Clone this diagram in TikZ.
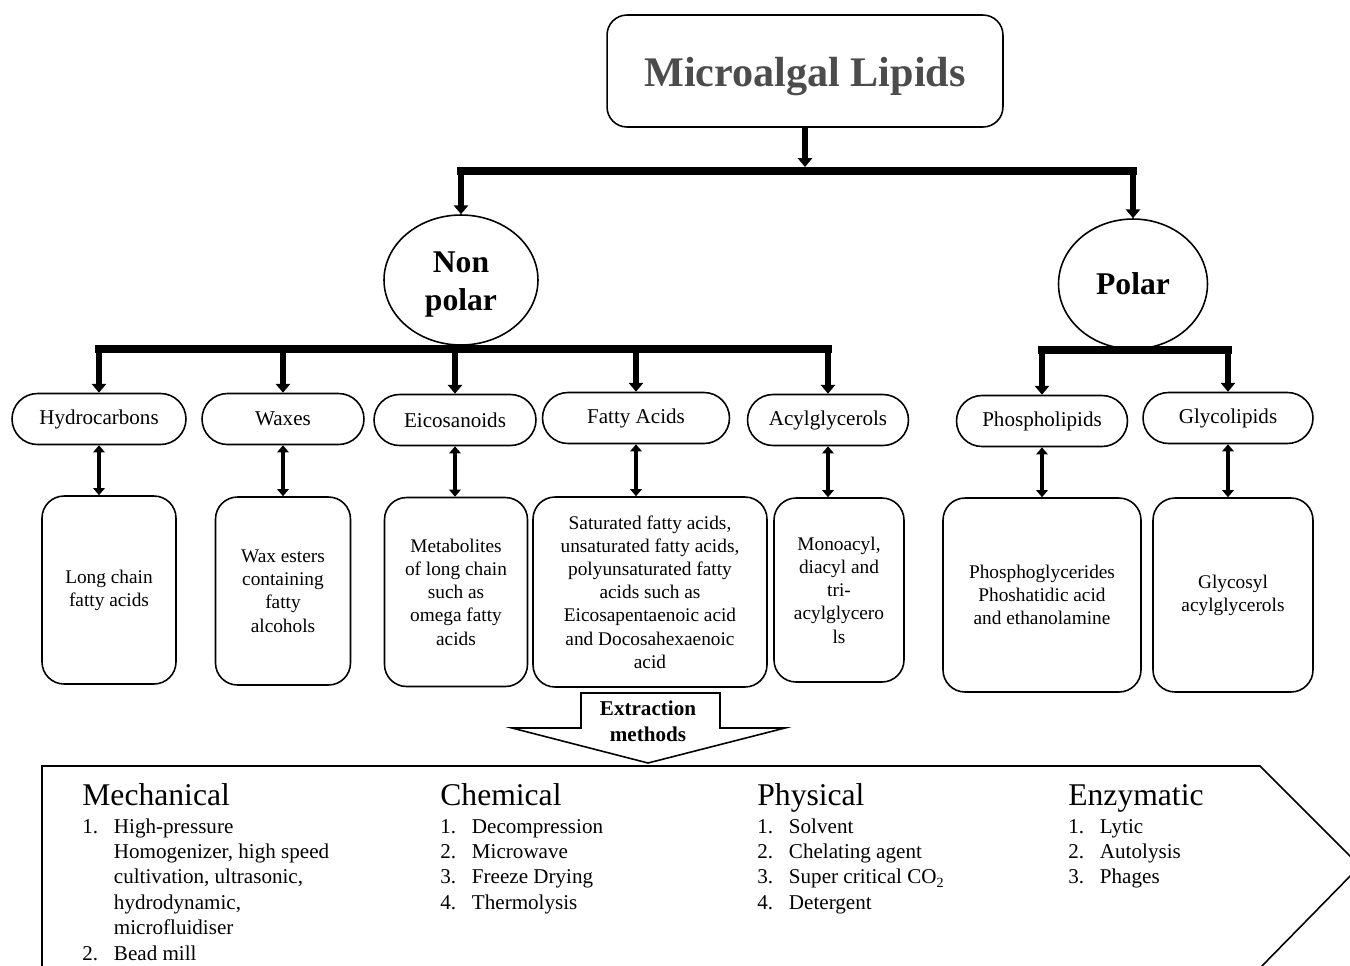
\documentclass[tikz,border=0pt]{standalone}
\usepackage{fontspec}
\setmainfont{Liberation Serif}
\usetikzlibrary{shapes,arrows.meta}
\tikzset{
    lipid/.style = {draw, rounded corners=0.4cm, line width=0.9pt, minimum width=7.92cm, minimum height=2.24cm,
        font=\fontsize{24}{28}\selectfont\bfseries, text=black!70, text height=23pt},
    group/.style = {draw, ellipse, line width=0.9pt, inner sep=0pt, minimum height=2.6cm, align=center,
        font=\fontsize{18}{21.5}\selectfont\bfseries},
    class/.style = {draw, rounded rectangle, line width=0.9pt, inner sep=0pt, minimum height=1.02cm,
        font=\fontsize{12}{14}\selectfont},
    info/.style = {draw, rounded corners=0.44cm, line width=0.9pt, inner sep=0pt, align=center,
        font=\fontsize{11}{13.2}\selectfont},
    feed/.style = {line width=3.2pt, -{Triangle[width=8pt,length=5pt]}},
    bar/.style = {line width=4.6pt, line cap=rect},
    link/.style = {line width=2.5pt, {Triangle[width=6.5pt,length=4pt]}-{Triangle[width=6.5pt,length=4pt]}},
    method/.style = {anchor=base west, inner sep=0pt, font=\fontsize{18}{21}\selectfont},
    steps/.style = {anchor=base west, inner sep=0pt, font=\fontsize{12}{14.5}\selectfont},
}

\begin{document}
\begin{tikzpicture}[x=0.02cm, y=-0.02cm]
    \useasboundingbox (0,0) rectangle (1350,965);

    \node[lipid] (lipids) at (805,71) {Microalgal Lipids};
    \node[group, minimum width=3.08cm, text height=38pt] (nonpolar) at (461,280) {Non\\polar};
    \node[group, minimum width=2.98cm] (polar) at (1133,284) {Polar};

    \coordinate (top) at (805,171);
    \coordinate (npbar) at (0,349);
    \coordinate (pbar) at (0,350);

    \draw[feed] (lipids.south) -- ([yshift=0.08cm]top);
    \draw[bar] (nonpolar.north |- top) -- (polar.north |- top);
    \draw[feed] (nonpolar.north |- top) -- (nonpolar.north);
    \draw[feed] (polar.north |- top) -- (polar.north);

    % classes
    \node[class, minimum width=3.48cm] (hydro) at (99,419) {Hydrocarbons};
    \node[class, minimum width=3.24cm] (waxes) at (283,419) {Waxes};
    \node[class, minimum width=3.24cm] (eico) at (455,420) {Eicosanoids};
    \node[class, minimum width=3.74cm] (fatty) at (636,418) {Fatty Acids};
    \node[class, minimum width=3.22cm] (acyl) at (828,420) {Acylglycerols};
    \node[class, minimum width=3.42cm] (phospho) at (1042,421) {Phospholipids};
    \node[class, minimum width=3.40cm] (glyco) at (1228,418) {Glycolipids};

    \draw[bar] (hydro.north |- npbar) -- (acyl.north |- npbar);
    \foreach \n in {hydro,waxes,eico,fatty,acyl}
        \draw[feed] (\n.north |- npbar) -- (\n.north);
    \draw[bar] (phospho.north |- pbar) -- (glyco.north |- pbar);
    \foreach \n in {phospho,glyco}
        \draw[feed] (\n.north |- pbar) -- (\n.north);

    % contents
    \node[info, minimum width=2.68cm, minimum height=3.76cm] (chain) at (109,590) {Long chain\\fatty acids};
    \node[info, minimum width=2.70cm, minimum height=3.76cm] (esters) at (283,591) {Wax esters\\containing\\fatty\\alcohols};
    \node[info, minimum width=2.86cm, minimum height=3.78cm] (metab) at (456,592) {Metabolites\\of long chain\\such as\\omega fatty\\acids};
    \node[info, minimum width=4.68cm, minimum height=3.80cm] (satur) at (650,592) {Saturated fatty acids,\\unsaturated fatty acids,\\polyunsaturated fatty\\acids such as\\Eicosapentaenoic acid\\and Docosahexaenoic\\acid};
    \node[info, minimum width=2.60cm, minimum height=3.68cm] (mono) at (839,590) {Monoacyl,\\diacyl and\\tri-\\acylglycero\\ls};
    \node[info, minimum width=3.96cm, minimum height=3.88cm] (phosg) at (1042,595) {Phosphoglycerides\\Phoshatidic acid\\and ethanolamine};
    \node[info, minimum width=3.20cm, minimum height=3.88cm] (glycos) at (1233,595) {Glycosyl\\acylglycerols};

    \draw[link] (hydro.south) -- (hydro.south |- chain.north);
    \draw[link] (waxes.south) -- (waxes.south |- esters.north);
    \draw[link] (eico.south) -- (eico.south |- metab.north);
    \draw[link] (fatty.south) -- (fatty.south |- satur.north);
    \draw[link] (acyl.south) -- (acyl.south |- mono.north);
    \draw[link] (phospho.south) -- (phospho.south |- phosg.north);
    \draw[link] (glyco.south) -- (glyco.south |- glycos.north);

    % extraction
    \draw[line width=0.9pt] (581,728) -- (581,693) -- (720,693) -- (720,728) -- (785,728)
        -- (648,763) -- (512,728) -- cycle;
    \node[font=\fontsize{12}{14.7}\selectfont\bfseries, align=center] (extract) at (648,721) {Extraction\\methods};

    \draw[line width=0.9pt] (42,975) -- (42,766) -- (1260,766) -- (1360,866) -- (1260,968) -- (42,968);

    \node[method] (mech) at (82,805) {Mechanical};
    \node[steps] (mechlist) at (82,833) {\begin{tabular}[t]{@{}p{18pt}@{}l@{}}
        1. & High-pressure\\
           & Homogenizer, high speed\\
           & cultivation, ultrasonic,\\
           & hydrodynamic,\\
           & microfluidiser\\
        2. & Bead mill
    \end{tabular}};

    \node[method] (chem) at (440,805) {Chemical};
    \node[steps] (chemlist) at (440,833) {\begin{tabular}[t]{@{}p{18pt}@{}l@{}}
        1. & Decompression\\
        2. & Microwave\\
        3. & Freeze Drying\\
        4. & Thermolysis
    \end{tabular}};

    \node[method] (phys) at (757,805) {Physical};
    \node[steps] (physlist) at (757,833) {\begin{tabular}[t]{@{}p{18pt}@{}l@{}}
        1. & Solvent\\
        2. & Chelating agent\\
        3. & Super critical CO\textsubscript{2}\\
        4. & Detergent
    \end{tabular}};

    \node[method] (enzy) at (1068,805) {Enzymatic};
    \node[steps] (enzylist) at (1068,833) {\begin{tabular}[t]{@{}p{18pt}@{}l@{}}
        1. & Lytic\\
        2. & Autolysis\\
        3. & Phages
    \end{tabular}};

\end{tikzpicture}
\end{document}
